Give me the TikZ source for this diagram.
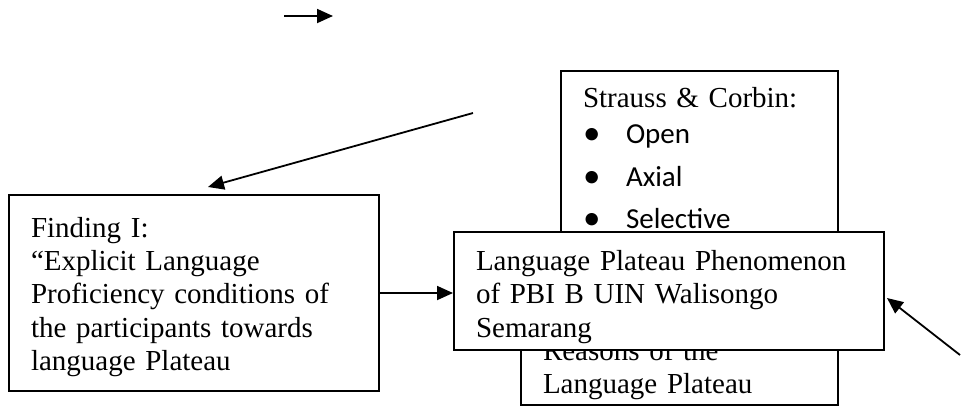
\documentclass[tikz,border=0pt]{standalone}
\usepackage{fontspec}
\setmainfont{Liberation Serif}
\newfontfamily\calibri{Carlito}
\usepackage{tikz}
\usetikzlibrary{arrows.meta,positioning}

\newcommand{\dotitem}[1]{{\calibri\makebox[43pt][l]{\raisebox{-1.5pt}{\fontsize{35}{35}\selectfont\textbullet}}#1}}

\begin{document}
\begin{tikzpicture}[x=1pt,y=-1pt,
    box/.style={draw,line width=2pt,align=left,inner xsep=22pt,font=\fontsize{29}{33.4}\selectfont},
    arr/.style={line width=1.8pt,-{Triangle[length=16pt,width=14pt]}}]
    \useasboundingbox (0,0) rectangle (966,408);
    \node (strauss) [box,anchor=north west,inner ysep=16pt,text width=233pt] at (560,70)
        {Strauss \& Corbin:\\[2.5pt]
        \dotitem{Open}\\[9.6pt]
        \dotitem{Axial}\\[8.6pt]
        \dotitem{Selective}};
    \node (reason) [box,anchor=south west,inner ysep=5pt,text width=273pt] at (520,406)
        {Reasons of the\\Language Plateau};
    \node (plateau) [box,fill=white,anchor=north west,minimum width=430pt,minimum height=118pt,text width=386pt] at (453,231)
        {\rule{0pt}{32pt}Language Plateau Phenomenon\\of PBI B UIN Walisongo\\Semarang};
    \node (find) [box,anchor=north west,minimum width=370pt,minimum height=196pt,text width=326pt] at (8,194)
        {\rule{0pt}{28pt}Finding I:\\“Explicit Language\\Proficiency conditions of\\the participants towards\\language Plateau};
    \coordinate (t1) at (284,16);
    \coordinate (t2) at (333,16);
    \coordinate (a1) at (473,113);
    \coordinate (a2) at (960,355);
    \draw[arr] (t1) -- (t2);
    \draw[arr] (a1) -- ([xshift=14pt,yshift=7pt]find.north);
    \draw[arr] (find.east) -- (find.east -| plateau.west);
    \draw[arr] (a2) -- ([xshift=2pt,yshift=-7pt]plateau.east);
\end{tikzpicture}
\end{document}
